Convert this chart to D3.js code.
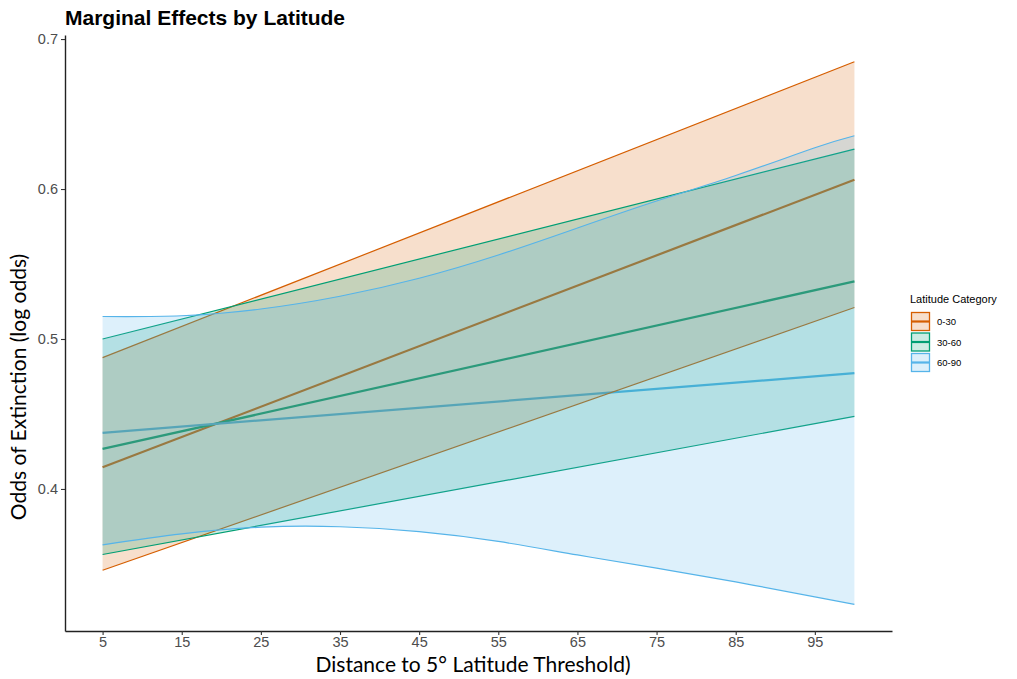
<!DOCTYPE html>
<html>
<head>
<meta charset="utf-8">
<script src="https://cdn.jsdelivr.net/npm/d3@7"></script>
<style>
  html, body { margin: 0; padding: 0; background: #fff; }
  svg { display: block; }
</style>
</head>
<body>
<svg id="chart" width="1017" height="679"></svg>
<script>
// Latitude bands and their colours
const categories = ["0-30", "30-60", "60-90"];
const bandColors = ["#D55E00", "#009E73", "#56B4E9"];

// Distance ticks on the x axis
const xTicks = [5, 15, 25, 35, 45, 55, 65, 75, 85, 95];
const yTicks = [0.4, 0.5, 0.6, 0.7];

// Straight-line fits: values at distance 5 and 100
const lineX = [5, 100];
const fit030 = [0.4145, 0.6062];
const lower030 = [0.3458, 0.5210];
const upper030 = [0.4876, 0.6849];

const fit3060 = [0.4267, 0.5384];
const lower3060 = [0.3563, 0.4484];
const upper3060 = [0.5000, 0.6266];

const fit6090 = [0.4374, 0.4772];
// 60-90 band has a curved interval
const curveX = [5, 15, 25, 35, 45, 55, 65, 75, 85, 95, 100];
const lower6090 = [0.3627, 0.3700, 0.3745, 0.3748, 0.3715, 0.3650, 0.3560, 0.3472, 0.3380, 0.3281, 0.3231];
const upper6090 = [0.5150, 0.5155, 0.5200, 0.5285, 0.5405, 0.5560, 0.5740, 0.5920, 0.6090, 0.6275, 0.6355];

const groups = [
  { name: categories[0], color: bandColors[0], fitX: lineX, fit: fit030, bandX: lineX, lower: lower030, upper: upper030 },
  { name: categories[1], color: bandColors[1], fitX: lineX, fit: fit3060, bandX: lineX, lower: lower3060, upper: upper3060 },
  { name: categories[2], color: bandColors[2], fitX: lineX, fit: fit6090, bandX: curveX, lower: lower6090, upper: upper6090 }
];

const svg = d3.select("#chart");
const plotLeft = 65, plotRight = 892, plotTop = 35, plotBottom = 631;

const x = d3.scaleLinear().domain([0.25, 104.75]).range([plotLeft, plotRight]);
const y = d3.scaleLinear().domain([0.3053, 0.7027]).range([plotBottom, plotTop]);

const plot = svg.append("g");

const line = d3.line().x(d => x(d[0])).y(d => y(d[1])).curve(d3.curveNatural);
const area = d3.area().x(d => x(d[0])).y0(d => y(d[1])).y1(d => y(d[2])).curve(d3.curveNatural);

// Fitted lines underneath the intervals
groups.forEach(g => {
  plot.append("path")
    .attr("d", line(g.fitX.map((v, i) => [v, g.fit[i]])))
    .attr("fill", "none")
    .attr("stroke", g.color)
    .attr("stroke-width", 2.2);
});

// Confidence ribbons with outlined bounds
groups.forEach(g => {
  const pts = g.bandX.map((v, i) => [v, g.lower[i], g.upper[i]]);
  plot.append("path")
    .attr("d", area(pts))
    .attr("fill", g.color)
    .attr("fill-opacity", 0.2)
    .attr("stroke", "none");
  plot.append("path")
    .attr("d", line(pts.map(p => [p[0], p[1]])))
    .attr("fill", "none").attr("stroke", g.color).attr("stroke-width", 1.2);
  plot.append("path")
    .attr("d", line(pts.map(p => [p[0], p[2]])))
    .attr("fill", "none").attr("stroke", g.color).attr("stroke-width", 1.2);
});

// Axes
const xAxis = svg.append("g")
  .attr("transform", `translate(0,${plotBottom})`)
  .call(d3.axisBottom(x).tickValues(xTicks).tickSize(4).tickPadding(2).tickSizeOuter(0));
const yAxis = svg.append("g")
  .attr("transform", `translate(${plotLeft},0)`)
  .call(d3.axisLeft(y).tickValues(yTicks).tickFormat(d3.format(".1f")).tickSize(4).tickPadding(3).tickSizeOuter(0));

[xAxis, yAxis].forEach(a => {
  a.select(".domain").attr("stroke", "#222").attr("stroke-width", 1.4);
  a.selectAll(".tick line").attr("stroke", "#333").attr("stroke-width", 1.1);
  a.selectAll(".tick text")
    .attr("fill", "#4D4D4D")
    .style("font-family", "Liberation Sans, Arial, sans-serif")
    .style("font-size", "14.5px");
});

// Titles
svg.append("text")
  .attr("x", 65).attr("y", 25)
  .style("font-family", "Liberation Sans, Arial, sans-serif")
  .style("font-weight", "bold").style("font-size", "21px")
  .attr("fill", "#000")
  .text("Marginal Effects by Latitude");

svg.append("text")
  .attr("x", 473).attr("y", 672)
  .attr("text-anchor", "middle")
  .style("font-family", "Lato, sans-serif")
  .style("font-size", "21px")
  .attr("fill", "#000")
  .text("Distance to 5° Latitude Threshold)");

svg.append("text")
  .attr("transform", "translate(26,387) rotate(-90)")
  .attr("text-anchor", "middle")
  .style("font-family", "Lato, sans-serif")
  .style("font-size", "21px")
  .attr("fill", "#000")
  .text("Odds of Extinction (log odds)");

// Legend
const legend = svg.append("g").attr("transform", "translate(910,0)");
legend.append("text")
  .attr("x", 0).attr("y", 303)
  .style("font-family", "Liberation Sans, Arial, sans-serif")
  .style("font-size", "11px")
  .attr("fill", "#000")
  .text("Latitude Category");

groups.forEach((g, i) => {
  const ky = 312 + i * 20.5;
  legend.append("rect")
    .attr("x", 1.5).attr("y", ky + 0.5)
    .attr("width", 18).attr("height", 18)
    .attr("fill", g.color).attr("fill-opacity", 0.2)
    .attr("stroke", g.color).attr("stroke-width", 1.3);
  legend.append("line")
    .attr("x1", 1.5).attr("x2", 19.5)
    .attr("y1", ky + 9.5).attr("y2", ky + 9.5)
    .attr("stroke", g.color).attr("stroke-width", 2.2);
  legend.append("text")
    .attr("x", 27).attr("y", ky + 13)
    .style("font-family", "Liberation Sans, Arial, sans-serif")
    .style("font-size", "9.5px")
    .attr("fill", "#000")
    .text(g.name);
});
</script>
</body>
</html>
